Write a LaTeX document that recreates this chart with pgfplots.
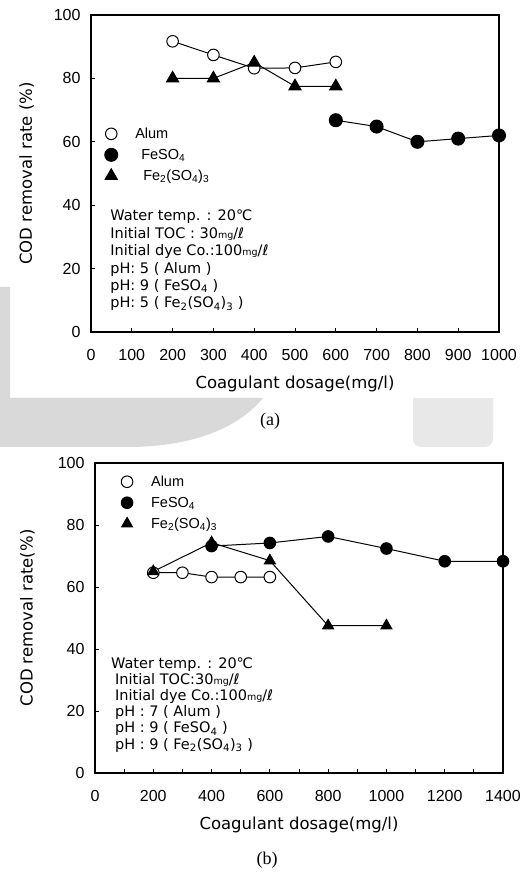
\documentclass[border=0pt]{standalone}
\usepackage{fontspec}
\setmainfont{DejaVu Sans}
\newfontfamily\tickfont{Liberation Sans}
\newfontfamily\capfont{Liberation Serif}
\usepackage{pgfplots}
\pgfplotsset{compat=1.18}

\newcommand{\mgl}{{\fontsize{9.5}{9.5}\selectfont mg}/ℓ}
\newcommand{\fes}{FeSO\textsubscript{4}}
\newcommand{\fez}{Fe\textsubscript{2}(SO\textsubscript{4})\textsubscript{3}}

\pgfplotsset{
  cod/.style={
    scale only axis, width=408pt,
    xmin=0, ymin=0, ymax=100, ytick={0,20,...,100},
    clip=false,
    tick pos=left, tick align=inside, major tick length=4pt, minor tick length=4pt,
    tick label style={font=\tickfont\fontsize{16}{16}\selectfont},
    /pgf/number format/assume math mode=true,
    /pgf/number format/1000 sep={},
    xticklabel style={yshift=-14pt},
    yticklabel style={xshift=-7pt},
    axis line style={line width=1.3pt},
    every tick/.style={black, line width=0.8pt},
    label style={font=\fontsize{16.5}{16.5}\selectfont},
    legend style={draw=none, fill=none, inner sep=0pt, row sep=5pt,
      font=\tickfont\fontsize{14.5}{14.5}\selectfont,
      nodes={inner sep=1pt, anchor=base west}},
    legend cell align=left,
    legend image code/.code={\path[draw=none, fill=none] (0pt,-3pt) rectangle (30pt,13pt);
      \draw[##1] plot coordinates {(7pt,5pt)};},
  },
  alum/.style={black, line width=1pt, mark=*, mark size=5.8pt,
    mark options={fill=white, line width=1pt}},
  fes/.style={black, line width=1pt, mark=*, mark size=#1,
    mark options={fill=black}},
  fez/.style={black, line width=1pt, mark=triangle*, mark size=#1,
    mark options={fill=black}},
}

\begin{document}
\begin{tikzpicture}
\path[use as bounding box] (0,0) rectangle (532pt,872pt);

% faint watermark between the panels
\fill[black!15] (0pt,585pt) -- (10pt,585pt) -- (10pt,474pt) -- (263pt,474pt)
  .. controls (235pt,440pt) and (185pt,425pt) .. (127pt,425pt) -- (0pt,425pt) -- cycle;
\fill[black!9, rounded corners=8pt] (413pt,480pt) -- (413pt,425pt) -- (493pt,425pt) -- (493pt,480pt);
\fill[white] (413pt,474pt) rectangle (493pt,482pt);

% (a)
\begin{axis}[cod, at={(91pt,540pt)}, anchor=south west, height=317pt,
  xmax=1000, xtick={0,100,...,1000},
  xlabel={Coagulant dosage(mg/l)}, ylabel={COD removal rate (\%)},
  xlabel style={at={(axis description cs:0.5,-0.177)}, anchor=base},
  ylabel style={at={(axis description cs:-0.145,0.5)}, anchor=base},
  legend style={at={(axis description cs:0.032,0.651)}, anchor=north west}]
\addplot[alum] coordinates {(200,91.7) (300,87.4) (400,83.2) (500,83.3) (600,85.2)};
\addlegendentry{Alum}
\addplot[fes=6.5pt] coordinates {(600,66.8) (700,64.8) (800,60) (900,61) (1000,62)};
\addlegendentry{\hspace{6pt}\fes}
\addplot[fez=7pt] coordinates {(200,80) (300,80) (400,85) (500,77.5) (600,77.5)};
\addlegendentry{\hspace{8pt}\fez}
\node[anchor=north west, align=left, inner sep=0pt,
  font=\fontsize{14.5}{17.4}\selectfont] at (rel axis cs:0.047,0.385)
  {Water temp. : 20℃\\ Initial TOC : 30\mgl\\ Initial dye Co.:100\mgl\\
   pH: 5 ( Alum )\\ pH: 9 ( \fes\ )\\ pH: 5 ( \fez\ )};
\end{axis}
\node[font=\capfont\fontsize{18}{18}\selectfont] at (270pt,451pt) {(a)};

% (b)
\begin{axis}[cod, at={(95pt,99pt)}, anchor=south west, height=310pt,
  xmax=1400, xtick={0,200,...,1400}, minor xtick={100,300,...,1300},
  xlabel={Coagulant dosage(mg/l)}, ylabel={COD removal rate(\%)},
  xlabel style={at={(axis description cs:0.5,-0.181)}, anchor=base},
  ylabel style={at={(axis description cs:-0.153,0.5)}, anchor=base},
  legend style={at={(axis description cs:0.061,0.966)}, anchor=north west}]
\addplot[alum] coordinates {(200,64.6) (300,64.6) (400,63.2) (500,63.2) (600,63.2)};
\addlegendentry{Alum}
\addplot[fes=5.8pt] coordinates {(400,73.2) (600,74.2) (800,76.3) (1000,72.4) (1200,68.3) (1400,68.3)};
\addlegendentry{\fes}
\addplot[fez=6.3pt] coordinates {(200,65) (400,74.3) (600,68.5) (800,47.5) (1000,47.5)};
\addlegendentry{\fez}
\node[anchor=north west, align=left, inner sep=0pt,
  font=\fontsize{14.5}{16.2}\selectfont] at (rel axis cs:0.039,0.374)
  {Water temp. : 20℃\\ \hspace{4pt}Initial TOC:30\mgl\\ \hspace{4pt}Initial dye Co.:100\mgl\\
   \hspace{4pt}pH : 7 ( Alum )\\ \hspace{4pt}pH : 9 ( \fes\ )\\ \hspace{4pt}pH : 9 ( \fez\ )};
\end{axis}
\node[font=\capfont\fontsize{18}{18}\selectfont] at (267pt,12pt) {(b)};
\end{tikzpicture}
\end{document}
